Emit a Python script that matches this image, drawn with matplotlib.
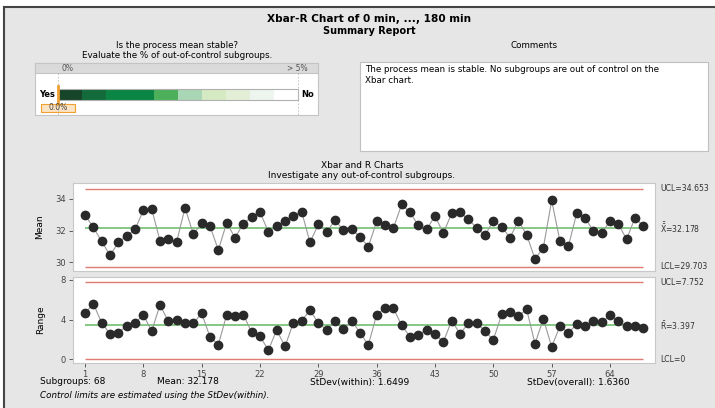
import matplotlib
matplotlib.use("Agg")
import matplotlib.pyplot as plt
import matplotlib.transforms as mtransforms
from matplotlib.patches import Rectangle
import numpy as np

W, H = 715, 408

# ---- data ----
subgroups = np.arange(1, 69)
means = [32.98, 32.20, 31.32, 30.44, 31.25, 31.67, 32.07, 33.27, 33.37, 31.36,
         31.46, 31.28, 33.44, 31.78, 32.45, 32.28, 30.77, 32.49, 31.55, 32.43,
         32.87, 33.16, 31.93, 32.26, 32.62, 32.93, 33.19, 31.25, 32.39, 31.93,
         32.64, 32.05, 32.07, 31.61, 30.98, 32.58, 32.37, 32.14, 33.65, 33.16,
         32.32, 32.09, 32.91, 31.84, 33.08, 33.16, 32.70, 32.18, 31.70, 32.62,
         32.24, 31.55, 32.62, 31.74, 30.20, 30.92, 33.90, 31.32, 31.00, 33.08,
         32.81, 31.97, 31.84, 32.60, 32.39, 31.46, 32.81, 32.28]
ranges = [4.62, 5.61, 3.66, 2.54, 2.67, 3.33, 3.63, 4.49, 2.81, 5.48,
          3.80, 3.99, 3.66, 3.60, 4.62, 2.24, 1.45, 4.49, 4.39, 4.49,
          2.71, 2.31, 0.89, 2.94, 1.27, 3.66, 3.89, 4.92, 3.66, 2.94,
          3.80, 3.00, 3.89, 2.67, 1.42, 4.49, 5.15, 5.15, 3.40, 2.28,
          2.44, 2.94, 2.57, 1.72, 3.89, 2.57, 3.60, 3.66, 2.81, 1.95,
          4.52, 4.79, 4.36, 5.02, 1.55, 4.06, 1.25, 3.33, 2.67, 3.50,
          3.37, 3.80, 3.70, 4.42, 3.80, 3.33, 3.33, 3.10]
xbar_limits = {"UCL": 34.653, "CL": 32.178, "LCL": 29.703}
r_limits = {"UCL": 7.752, "CL": 3.397, "LCL": 0}
x_ticks = [1, 8, 15, 22, 29, 36, 43, 50, 57, 64]
mean_ticks = [30, 32, 34]
range_ticks = [0, 4, 8]
pct_out = 0.0
band_colors = ["#17452a", "#136b3b", "#0a8543", "#4caf5a", "#a9d6b5",
               "#d5eac3", "#e2efd6", "#eef5ef", "#ffffff"]
band_units = [1, 1, 2, 1, 1, 1, 1, 1, 1]
stats_text = ["Subgroups: 68", "Mean: 32.178", "StDev(within): 1.6499",
              "StDev(overall): 1.6360"]

BG = "#e6e6e6"
RED = "#e07a72"
GREEN = "#7cc47c"

fig = plt.figure(figsize=(W / 100, H / 100), dpi=100)
fig.patch.set_facecolor("white")

# full-figure axes in pixel coordinates
bg = fig.add_axes([0, 0, 1, 1])
bg.set_xlim(0, W)
bg.set_ylim(H, 0)
bg.axis("off")
bg.add_patch(Rectangle((4, 6.5), W, H, fc=BG, ec="none"))
bg.plot([4, W], [6.5, 6.5], color="#444444", lw=1.5)
bg.plot([4, 4], [6.5, H], color="#444444", lw=1.5)

bg.text(369, 19, "Xbar-R Chart of 0 min, ..., 180 min", ha="center", va="center",
        fontsize=7.6, fontweight="bold")
bg.text(369, 31, "Summary Report", ha="center", va="center", fontsize=7,
        fontweight="bold")

# stability meter
bg.text(177, 45, "Is the process mean stable?", ha="center", va="center", fontsize=6.3)
bg.text(177, 56, "Evaluate the % of out-of-control subgroups.", ha="center",
        va="center", fontsize=6.3)
bg.add_patch(Rectangle((35, 63), 283, 52, fc="white", ec="#c4c4c4", lw=0.8))
bg.add_patch(Rectangle((35, 63), 283, 10, fc="#dadada", ec="#c4c4c4", lw=0.8))
bg.text(62, 68.5, "0%", ha="left", va="center", fontsize=5.5, color="#555555")
bg.text(308, 68.5, "> 5%", ha="right", va="center", fontsize=5.5, color="#555555")
x0, unit = 58, 24
for xv in (x0, x0 + unit * sum(band_units)):
    bg.plot([xv, xv], [73, 115], color="#bbbbbb", lw=0.6, ls=(0, (2, 2)))
pos = x0
for c, u in zip(band_colors, band_units):
    bg.add_patch(Rectangle((pos, 89), unit * u, 11, fc=c, ec="none"))
    pos += unit * u
bg.add_patch(Rectangle((x0, 89), unit * sum(band_units), 11, fc="none",
                       ec="#b0b0b0", lw=0.8))
bg.text(47, 94.5, "Yes", ha="center", va="center", fontsize=6, fontweight="bold")
bg.text(308, 94.5, "No", ha="center", va="center", fontsize=6, fontweight="bold")
mx = x0 + pct_out / 5 * unit * sum(band_units)
bg.plot([mx, mx], [86, 104], color="#f0a030", lw=2)
bg.add_patch(Rectangle((40.5, 104), 34.5, 8, fc="#fbe3c4", ec="#f0a030", lw=0.8))
bg.text(58, 108, f"{pct_out:.1f}%", ha="center", va="center", fontsize=5.5,
        color="#444444")

# comments box
bg.text(534, 46, "Comments", ha="center", va="center", fontsize=6.3)
bg.add_patch(Rectangle((360, 62), 348, 89, fc="white", ec="#c0c0c0", lw=0.8))
bg.text(365, 65, "The process mean is stable. No subgroups are out of control on the\n"
        "Xbar chart.", ha="left", va="top", fontsize=6.3, linespacing=1.25)

# chart heading
bg.text(362, 165, "Xbar and R Charts", ha="center", va="center", fontsize=6.5)
bg.text(362, 175, "Investigate any out-of-control subgroups.", ha="center",
        va="center", fontsize=6.5)


def px_axes(x0, y0, x1, y1):
    return fig.add_axes([x0 / W, 1 - y1 / H, (x1 - x0) / W, (y1 - y0) / H])


def draw_chart(ax, values, limits, ylim, yticks, labels):
    ax.set_facecolor("white")
    ax.hlines([limits["UCL"], limits["LCL"]], 1, 68, color=RED, lw=1)
    ax.hlines(limits["CL"], 1, 68, color=GREEN, lw=1.3)
    ax.plot(subgroups, values, color="#9a9a9a", lw=0.8, zorder=3)
    ax.plot(subgroups, values, "o", color="#2a2a2a", ms=6.0, zorder=4)
    ax.set_xlim(-0.44, 69.4)
    ax.set_ylim(*ylim)
    ax.set_yticks(yticks)
    ax.set_xticks(x_ticks)
    for s in ax.spines.values():
        s.set_color("#c8c8c8")
        s.set_linewidth(0.8)
    ax.tick_params(labelsize=6, colors="#444444", length=3, width=0.6, pad=2)
    tr = mtransforms.blended_transform_factory(ax.transAxes, ax.transData)
    for key, txt in labels.items():
        ax.text(1.009, limits[key], txt, transform=tr, ha="left", va="center",
                fontsize=5.6, color="#333333")


ax1 = px_axes(73, 183, 655, 271)
draw_chart(ax1, means, xbar_limits, (29.45, 35.0), mean_ticks,
           {"UCL": "UCL=34.653", "CL": r"$\bar{\bar{\mathrm{X}}}$=32.178",
            "LCL": "LCL=29.703"})
ax1.tick_params(axis="x", bottom=False, labelbottom=False)
ax1.set_ylabel("Mean", fontsize=6.5, labelpad=8)

ax2 = px_axes(73, 277, 655, 363)
draw_chart(ax2, ranges, r_limits, (-0.4, 8.3), range_ticks,
           {"UCL": "UCL=7.752", "CL": r"$\bar{\mathrm{R}}$=3.397", "LCL": "LCL=0"})
ax2.set_ylabel("Range", fontsize=6.5, labelpad=11)

for xv, txt in zip([40, 157, 310, 527], stats_text):
    bg.text(xv, 382, txt, ha="left", va="center", fontsize=6.5)
bg.text(40, 396, "Control limits are estimated using the StDev(within).",
        ha="left", va="center", fontsize=6.3, style="italic")

fig.savefig("out.png", dpi=100)
